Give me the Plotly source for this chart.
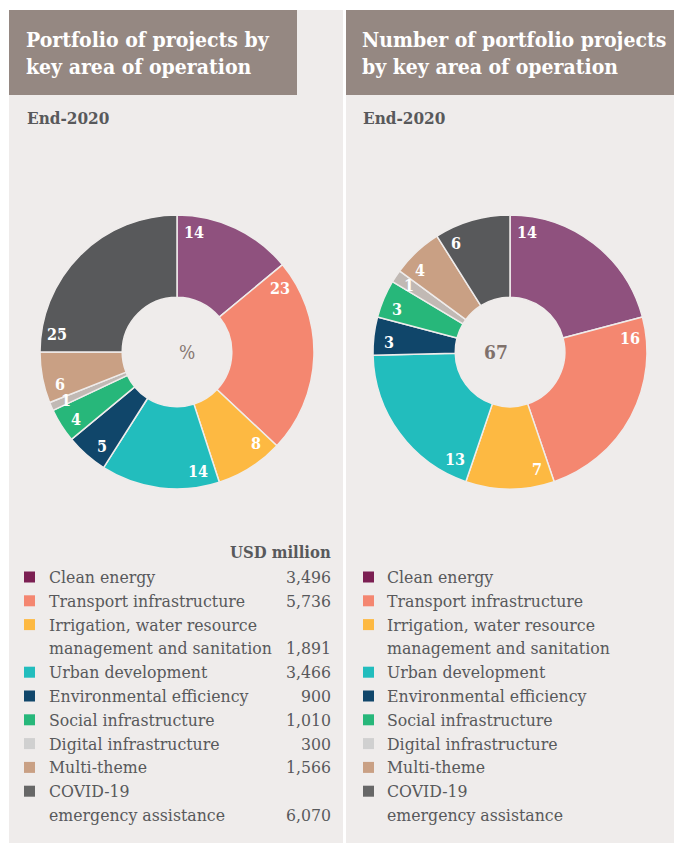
import math
import plotly.graph_objects as go

W, H = 674, 843

categories = ["Clean energy", "Transport infrastructure",
              "Irrigation, water resource\nmanagement and sanitation",
              "Urban development", "Environmental efficiency",
              "Social infrastructure", "Digital infrastructure",
              "Multi-theme", "COVID-19\nemergency assistance"]
share_pct = [14, 23, 8, 14, 5, 4, 1, 6, 25]
usd_million = ["3,496", "5,736", "1,891", "3,466", "900", "1,010", "300", "1,566", "6,070"]
project_counts = [14, 16, 7, 13, 3, 3, 1, 4, 6]

slice_colors = ["#8f517e", "#f48770", "#fdb942", "#22bdbd", "#10466a",
                "#27b77a", "#c1b9b4", "#c9a084", "#58595b"]
legend_colors = ["#7b1f52", "#f48670", "#fdb942", "#22bdbd", "#10466a",
                 "#27b77a", "#d0d0d0", "#c9a084", "#676767"]

BG = "#efeceb"
HEAD = "#958882"
TXT = "#58595b"
SERIF = "DejaVu Serif Condensed, DejaVu Serif, serif"


def px(x):
    return x / W


def py(y):
    return 1 - y / H


fig = go.Figure()

R = 137
centers = [(177, 352), (510, 352)]
for (cx, cy), vals in zip(centers, [share_pct, project_counts]):
    fig.add_trace(go.Pie(
        values=vals, labels=[c.replace("\n", " ") for c in categories],
        sort=False, direction="clockwise", rotation=0, hole=0.4,
        marker=dict(colors=slice_colors, line=dict(color=BG, width=1.5)),
        textinfo="none", hoverinfo="label+value", showlegend=False,
        domain=dict(x=[px(cx - R), px(cx + R)], y=[py(cy + R), py(cy - R)]),
    ))

shapes = []
annotations = []

# panels
shapes.append(dict(type="rect", xref="paper", yref="paper", x0=px(9), x1=px(343),
                   y0=py(843), y1=py(10), fillcolor=BG, line=dict(width=0), layer="below"))
shapes.append(dict(type="rect", xref="paper", yref="paper", x0=px(346), x1=px(674),
                   y0=py(843), y1=py(10), fillcolor=BG, line=dict(width=0), layer="below"))
shapes.append(dict(type="rect", xref="paper", yref="paper", x0=px(9), x1=px(297),
                   y0=py(95), y1=py(10), fillcolor=HEAD, line=dict(width=0), layer="below"))
shapes.append(dict(type="rect", xref="paper", yref="paper", x0=px(346), x1=px(674),
                   y0=py(95), y1=py(10), fillcolor=HEAD, line=dict(width=0), layer="below"))

titles = ["Portfolio of projects by<br>key area of operation",
          "Number of portfolio projects<br>by key area of operation"]
for tx, t in zip([24, 360], titles):
    annotations.append(dict(x=px(tx), y=py(53), xref="paper", yref="paper", text=t,
                            showarrow=False, xanchor="left", yanchor="middle", align="left",
                            font=dict(family=SERIF, size=21, color="white", weight="bold")))
    annotations.append(dict(x=px(tx + 1), y=py(118), xref="paper", yref="paper", text="End-2020",
                            showarrow=False, xanchor="left", yanchor="middle",
                            font=dict(family=SERIF, size=17, color=TXT, weight="bold")))

# centre labels
annotations.append(dict(x=px(177), y=py(352), xref="paper", yref="paper", text="%",
                        showarrow=False, font=dict(family=SERIF, size=19, color="#857670")))
annotations.append(dict(x=px(510), y=py(352), xref="paper", yref="paper",
                        text=str(sum(project_counts)), showarrow=False,
                        font=dict(family=SERIF, size=19, color="#7f716b", weight="bold")))

# slice value labels, placed from the cumulative values
for (cx, cy), vals in zip(centers, [share_pct, project_counts]):
    total = sum(vals)
    start = 0.0
    rr = 121
    for v in vals:
        w = v / total * 360
        d = 8 + 4.6 * len(str(v))
        off = min(math.degrees(math.asin(d / rr)), w / 2)
        a = math.radians(start + off)
        x = cx + rr * math.sin(a)
        y = cy - rr * math.cos(a)
        annotations.append(dict(x=px(x), y=py(y), xref="paper", yref="paper", text=str(v),
                                showarrow=False, xanchor="center", yanchor="middle",
                                font=dict(family=SERIF, size=16, color="white", weight="bold")))
        start += w

# legends
annotations.append(dict(x=px(333), y=py(552), xref="paper", yref="paper", text="USD million",
                        showarrow=False, xanchor="right", yanchor="middle",
                        font=dict(family=SERIF, size=16.5, color=TXT, weight="bold")))
row0, step = 577, 23.8
for mx, tx, with_vals in [(24, 47, True), (363, 385, False)]:
    row = 0
    for i, cat in enumerate(categories):
        lines = cat.split("\n")
        yc = row0 + row * step
        shapes.append(dict(type="rect", xref="paper", yref="paper",
                           x0=px(mx), x1=px(mx + 11), y0=py(yc + 5.5), y1=py(yc - 5.5),
                           fillcolor=legend_colors[i], line=dict(width=0)))
        for j, ln in enumerate(lines):
            yl = row0 + (row + j) * step
            annotations.append(dict(x=px(tx), y=py(yl), xref="paper", yref="paper", text=ln,
                                    showarrow=False, xanchor="left", yanchor="middle",
                                    font=dict(family=SERIF, size=17.5, color=TXT)))
        if with_vals:
            yl = row0 + (row + len(lines) - 1) * step
            annotations.append(dict(x=px(333), y=py(yl), xref="paper", yref="paper",
                                    text=usd_million[i], showarrow=False, xanchor="right",
                                    yanchor="middle",
                                    font=dict(family=SERIF, size=17.5, color=TXT)))
        row += len(lines)

fig.update_layout(width=W, height=H, margin=dict(l=0, r=0, t=0, b=0),
                  paper_bgcolor="white", plot_bgcolor="white",
                  shapes=shapes, annotations=annotations)
fig.write_html("out.html", config={"displayModeBar": False},
               post_script="document.body.style.margin='0';document.body.style.overflow='hidden';")
